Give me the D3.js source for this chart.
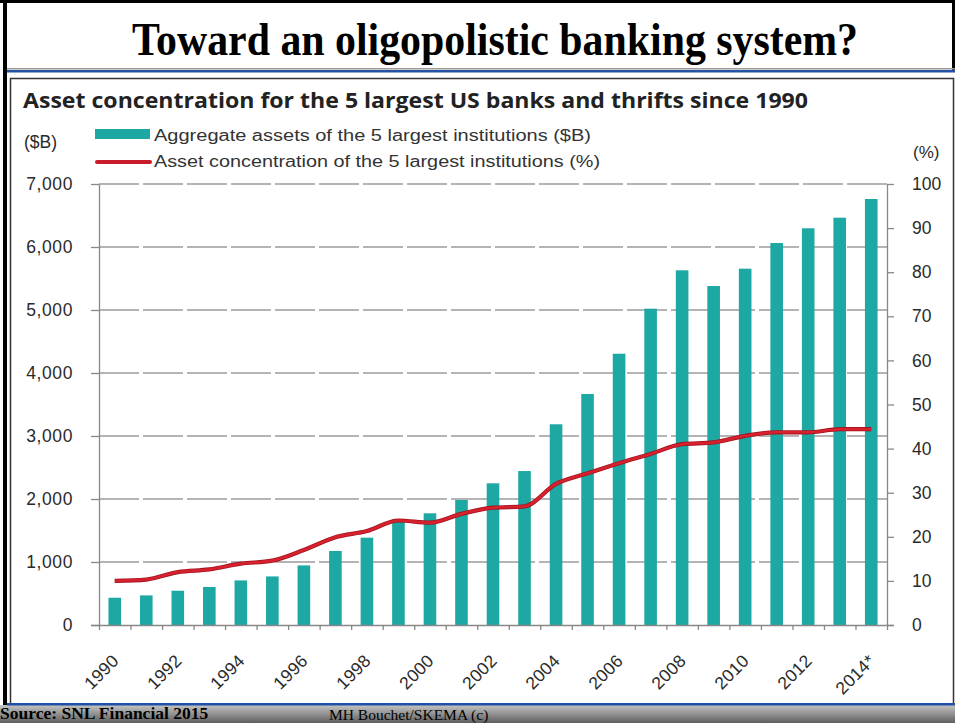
<!DOCTYPE html>
<html><head><meta charset="utf-8">
<script src="https://cdn.jsdelivr.net/npm/d3@7"></script>
<style>
html,body{margin:0;padding:0;background:#fff;}
svg{display:block;}
</style></head>
<body>
<svg id="c" width="955" height="723"></svg>
<script>
// ---- data ----
const years = d3.range(1990, 2015);
const yearLabels = years.map(y => y === 2014 ? "2014*" : String(y));
const assets = [433, 470, 544, 603, 708, 771, 946, 1175, 1386, 1678, 1773, 1984, 2249, 2444, 3186, 3667, 4306, 5021, 5630, 5381, 5656, 6063, 6297, 6465, 6762];
const concentration = [10.0, 10.3, 12.0, 12.6, 13.9, 14.6, 17.0, 19.9, 21.3, 23.7, 23.2, 25.2, 26.6, 26.9, 32.0, 34.4, 36.7, 38.8, 41.0, 41.4, 42.9, 43.7, 43.7, 44.4, 44.4];
const leftTicks = [0, 1000, 2000, 3000, 4000, 5000, 6000, 7000];
const rightTicks = [0, 10, 20, 30, 40, 50, 60, 70, 80, 90, 100];
const labelYears = years.filter(y => y % 2 === 0);

const title = "Toward an oligopolistic banking system?";
const subtitle = "Asset concentration for the 5 largest US banks and thrifts since 1990";
const legendBars = "Aggregate assets of the 5 largest institutions ($B)";
const legendLine = "Asset concentration of the 5 largest institutions (%)";

const svg = d3.select("#c");
const sans = "'Liberation Sans', Arial, sans-serif";
const serif = "'Liberation Serif', 'Times New Roman', serif";

// ---- slide frame ----
svg.append("rect").attr("x",0).attr("y",0).attr("width",955).attr("height",723).attr("fill","#fff");
svg.append("rect").attr("x",0).attr("y",0).attr("width",955).attr("height",3).attr("fill","#000");
svg.append("rect").attr("x",3).attr("y",0).attr("width",4).attr("height",705).attr("fill","#000");
svg.append("rect").attr("x",952).attr("y",0).attr("width",3).attr("height",70).attr("fill","#000");
svg.append("rect").attr("x",7).attr("y",68).attr("width",948).attr("height",1.5).attr("fill","#9a9a9a");
svg.append("rect").attr("x",7).attr("y",70).attr("width",948).attr("height",2.5).attr("fill","#2452a4");

svg.append("text").attr("x",495).attr("y",55).attr("text-anchor","middle")
  .attr("font-family",serif).attr("font-weight","bold").attr("font-size",46)
  .attr("textLength",726).attr("lengthAdjust","spacingAndGlyphs").attr("fill","#000").text(title);

// chart image frame
svg.append("rect").attr("x",10.5).attr("y",78.5).attr("width",943).attr("height",630)
  .attr("fill","none").attr("stroke","#333").attr("stroke-width",1.5);

svg.append("text").attr("x",23).attr("y",108)
  .attr("font-family","'Open Sans', 'Noto Sans', sans-serif").attr("font-weight","bold").attr("font-size",21)
  .attr("textLength",785).attr("lengthAdjust","spacingAndGlyphs").attr("fill","#222").text(subtitle);

// ---- scales ----
const x0 = 99, x1 = 887, yTop = 184, yBot = 625;
const x = d3.scaleBand().domain(years).range([x0, x1]).paddingInner(0.6).paddingOuter(0.3);
const xEdge = d3.scaleLinear().domain([0, years.length]).range([x0, x1]);
const yL = d3.scaleLinear().domain([0, 7000]).range([yBot, yTop]);
const yR = d3.scaleLinear().domain([0, 100]).range([yBot, yTop]);

const g = svg.append("g");

// gridlines
g.append("g").selectAll("line").data(leftTicks.filter(d => d > 0)).join("line")
  .attr("x1", x0).attr("x2", x1).attr("y1", d => yL(d)).attr("y2", d => yL(d))
  .attr("stroke","#9c9c9c").attr("stroke-width",1.4).attr("stroke-dasharray","40,4");

// bars
g.append("g").selectAll("rect").data(years).join("rect")
  .attr("x", d => x(d)).attr("width", x.bandwidth())
  .attr("y", (d,i) => yL(assets[i])).attr("height", (d,i) => yBot - yL(assets[i]))
  .attr("fill","#1ea8a3");

// line
const line = d3.line().x((d,i) => x(years[i]) + x.bandwidth()/2).y(d => yR(d)).curve(d3.curveMonotoneX);
g.append("path").datum(concentration).attr("d", line).attr("fill","none")
  .attr("stroke","#a3141f").attr("stroke-width",4.2).attr("stroke-linejoin","round");
g.append("path").datum(concentration).attr("d", line).attr("fill","none")
  .attr("stroke","#d8212f").attr("stroke-width",2.6).attr("stroke-linejoin","round");

// axes
const axisStyle = sel => {
  sel.select(".domain").attr("stroke","#888").attr("stroke-width",1.3);
  sel.selectAll(".tick line").attr("stroke","#888").attr("stroke-width",1.3);
  sel.selectAll("text").attr("font-family",sans).attr("font-size",17.5).attr("fill","#2a2a2a");
};
const axL = g.append("g").attr("transform",`translate(${x0},0)`)
  .call(d3.axisLeft(yL).tickValues(leftTicks).tickSize(8).tickPadding(18).tickSizeOuter(0).tickFormat(d3.format(",")));
axisStyle(axL);
axL.selectAll("text").attr("letter-spacing","0.6px");
const axR = g.append("g").attr("transform",`translate(${x1},0)`)
  .call(d3.axisRight(yR).tickValues(rightTicks).tickSize(7).tickPadding(18).tickSizeOuter(0).tickFormat(d3.format("d")));
axisStyle(axR);
const axB = g.append("g").attr("transform",`translate(0,${yBot})`)
  .call(d3.axisBottom(xEdge).tickValues(d3.range(0, years.length + 1)).tickSize(5).tickSizeOuter(0).tickFormat(""));
axisStyle(axB);
axB.select(".domain").attr("d", `M${x0-8},0.5H${x1+7}`);

// x labels
g.append("g").selectAll("text").data(labelYears).join("text")
  .attr("transform", d => { const cx = x(d) + x.bandwidth()/2 + 5; return `translate(${cx},${662}) rotate(-45)`; })
  .attr("text-anchor","end").attr("font-family",sans).attr("font-size",17.5).attr("fill","#2a2a2a")
  .attr("letter-spacing","0.3px")
  .text(d => yearLabels[years.indexOf(d)]);

// unit labels
svg.append("text").attr("x",24).attr("y",148).attr("font-family",sans).attr("font-size",17.5).attr("fill","#2a2a2a").text("($B)");
svg.append("text").attr("x",913).attr("y",158).attr("font-family",sans).attr("font-size",17).attr("fill","#2a2a2a").text("(%)");

// legend
svg.append("rect").attr("x",95).attr("y",129).attr("width",55).attr("height",10).attr("fill","#1ea8a3");
svg.append("text").attr("x",154).attr("y",141).attr("font-family",sans).attr("font-size",16)
  .attr("textLength",437).attr("lengthAdjust","spacingAndGlyphs").attr("fill","#333").text(legendBars);
svg.append("line").attr("x1",97).attr("x2",150).attr("y1",162).attr("y2",162)
  .attr("stroke","#c81c2a").attr("stroke-width",4).attr("stroke-linecap","round");
svg.append("text").attr("x",154).attr("y",167).attr("font-family",sans).attr("font-size",16)
  .attr("textLength",446).attr("lengthAdjust","spacingAndGlyphs").attr("fill","#333").text(legendLine);

// ---- footer ----
const defs = svg.append("defs");
const grad = defs.append("linearGradient").attr("id","fg").attr("x1",0).attr("y1",0).attr("x2",0).attr("y2",1);
grad.append("stop").attr("offset","0%").attr("stop-color","#c4c4c4");
grad.append("stop").attr("offset","100%").attr("stop-color","#5e5e5e");
svg.append("rect").attr("x",0).attr("y",705).attr("width",955).attr("height",18).attr("fill","url(#fg)");
svg.append("rect").attr("x",7).attr("y",703).attr("width",948).attr("height",2.5).attr("fill","#1f4fa6");
svg.append("text").attr("x",0).attr("y",719).attr("font-family",serif).attr("font-weight","bold").attr("font-size",17.5)
  .attr("fill","#000").text("Source: SNL Financial 2015");
svg.append("text").attr("x",329).attr("y",720).attr("font-family",serif).attr("font-size",15.5)
  .attr("fill","#000").text("MH Bouchet/SKEMA (c)");
</script>
</body></html>
